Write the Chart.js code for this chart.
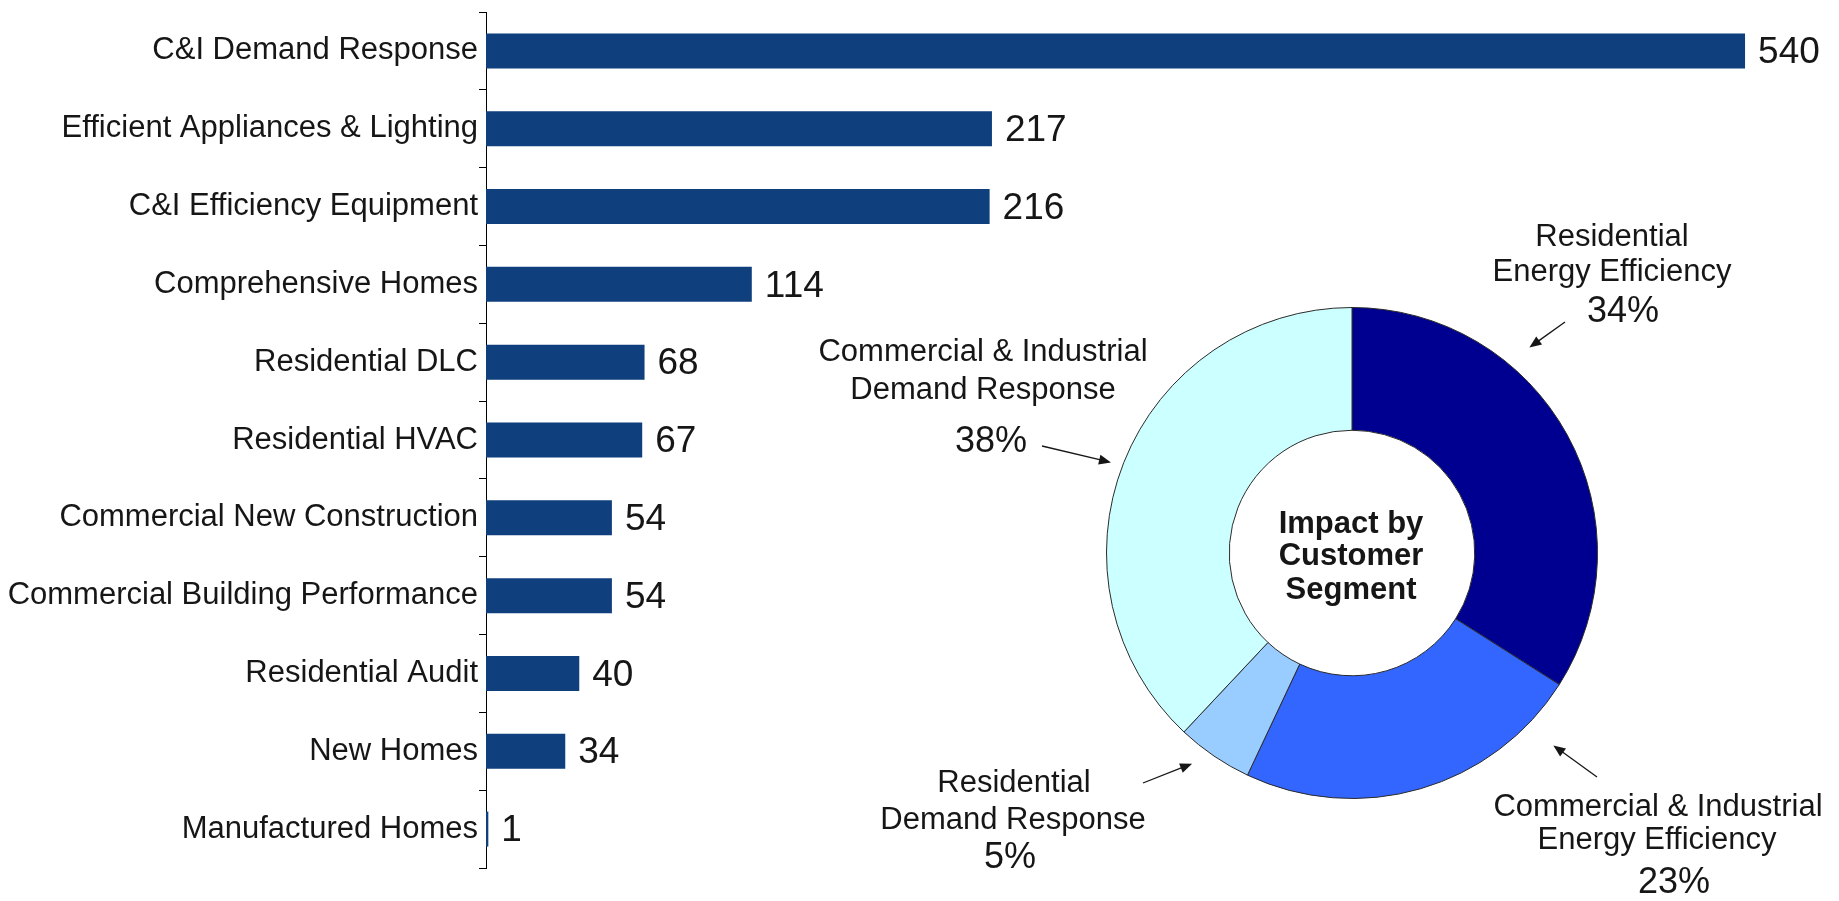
<!DOCTYPE html>
<html>
<head>
<meta charset="utf-8">
<script src="https://cdn.jsdelivr.net/npm/chart.js@4/dist/chart.umd.min.js"></script>
<style>
  html, body { margin: 0; padding: 0; background: #fff; width: 1839px; height: 901px; overflow: hidden; }
  #bars { position: absolute; left: 0; top: 0; }
  #ring { position: absolute; left: 790px; top: 190px; }
</style>
</head>
<body>
<canvas id="bars" width="1839" height="901"></canvas>
<canvas id="ring" width="1049" height="711"></canvas>
<script>
// Program impact (MW) by program
const programs = [
  'C&I Demand Response',
  'Efficient Appliances & Lighting',
  'C&I Efficiency Equipment',
  'Comprehensive Homes',
  'Residential DLC',
  'Residential HVAC',
  'Commercial New Construction',
  'Commercial Building Performance',
  'Residential Audit',
  'New Homes',
  'Manufactured Homes'
];
const impactMW = [540, 217, 216, 114, 68, 67, 54, 54, 40, 34, 1];

// Share of impact by customer segment (%)
const segments = [
  'Residential Energy Efficiency',
  'Commercial & Industrial Energy Efficiency',
  'Residential Demand Response',
  'Commercial & Industrial Demand Response'
];
const segmentShare = [34, 23, 5, 38];
const segmentLines = [
  ['Residential', 'Energy Efficiency'],
  ['Commercial & Industrial', 'Energy Efficiency'],
  ['Residential', 'Demand Response'],
  ['Commercial & Industrial', 'Demand Response']
];
const centerTitle = ['Impact by', 'Customer', 'Segment'];

const FONT = 'Arial, "Liberation Sans", sans-serif';
const INK = '#161616';
Chart.defaults.font.family = FONT;
Chart.defaults.animation = false;

// value written just past the end of each bar
const barValueLabels = {
  id: 'barValueLabels',
  afterDatasetsDraw(chart) {
    const ctx = chart.ctx;
    const meta = chart.getDatasetMeta(0);
    ctx.save();
    ctx.font = '37px ' + FONT;
    ctx.fillStyle = INK;
    ctx.textAlign = 'left';
    ctx.textBaseline = 'middle';
    meta.data.forEach((bar, i) => {
      ctx.fillText(String(chart.data.datasets[0].data[i]), bar.x + 13, bar.y + 2);
    });
    ctx.restore();
  }
};

new Chart(document.getElementById('bars'), {
  type: 'bar',
  data: {
    labels: programs,
    datasets: [{
      data: impactMW,
      backgroundColor: '#0f3f7d',
      borderWidth: 0,
      categoryPercentage: 1,
      barPercentage: 0.45
    }]
  },
  options: {
    responsive: false,
    indexAxis: 'y',
    layout: { padding: { top: 12, bottom: 33, right: 31, left: 0 } },
    plugins: { legend: { display: false }, tooltip: { enabled: false } },
    scales: {
      x: { min: 0, max: 567, display: false },
      y: {
        grid: {
          display: true,
          drawOnChartArea: false,
          drawTicks: true,
          tickLength: 7,
          color: '#000',
          lineWidth: 1,
          offset: true
        },
        border: { display: true, color: '#000', width: 1 },
        ticks: {
          color: INK,
          font: { size: 31 },
          padding: 1,
          autoSkip: false
        },
        afterFit(scale) {
          scale.width = 486;
          // labels sit inside their bands, so no extra room above/below is needed
          scale.paddingTop = 0;
          scale.paddingBottom = 0;
        }
      }
    }
  },
  plugins: [barValueLabels]
});

// callout placement around the ring, in px relative to its centre;
// arrow heads sit at an angle (deg, clockwise from 12 o'clock) just outside the rim
const callouts = [
  { lines: [[260, -316], [260, -281]], pct: [271, -241], tail: [213, -231], angle: 40.8, gap: 26 },
  { lines: [[306, 254], [305, 287]],   pct: [322, 330],  tail: [245, 224],  angle: 133.7, gap: 33 },
  { lines: [[-338, 230], [-339, 267]], pct: [-342, 305], tail: [-209, 230], angle: 217.2, gap: 19 },
  { lines: [[-369, -201], [-369, -163]], pct: [-361, -111], tail: [-310, -107], angle: 290.6, gap: 12 }
];

function drawArrow(ctx, x0, y0, x1, y1) {
  const a = Math.atan2(y1 - y0, x1 - x0);
  const len = 12, half = 5;
  ctx.beginPath();
  ctx.moveTo(x0, y0);
  ctx.lineTo(x1 - Math.cos(a) * len * 0.8, y1 - Math.sin(a) * len * 0.8);
  ctx.stroke();
  ctx.beginPath();
  ctx.moveTo(x1, y1);
  ctx.lineTo(x1 - Math.cos(a) * len - Math.sin(a) * half, y1 - Math.sin(a) * len + Math.cos(a) * half);
  ctx.lineTo(x1 - Math.cos(a) * len + Math.sin(a) * half, y1 - Math.sin(a) * len - Math.cos(a) * half);
  ctx.closePath();
  ctx.fill();
}

const ringAnnotations = {
  id: 'ringAnnotations',
  afterDraw(chart) {
    const ctx = chart.ctx;
    const arcs = chart.getDatasetMeta(0).data;
    if (!arcs.length) return;
    const cx = arcs[0].x, cy = arcs[0].y, R = arcs[0].outerRadius;
    const values = chart.data.datasets[0].data;
    ctx.save();
    ctx.fillStyle = INK;
    ctx.strokeStyle = INK;
    ctx.lineWidth = 1.3;
    ctx.textAlign = 'center';
    ctx.textBaseline = 'middle';

    // centre title
    ctx.font = 'bold 31px ' + FONT;
    [-29, 3, 37].forEach((dy, i) => ctx.fillText(centerTitle[i], cx - 1, cy + dy));

    callouts.forEach((c, i) => {
      ctx.font = '31px ' + FONT;
      segmentLines[i].forEach((t, j) => ctx.fillText(t, cx + c.lines[j][0], cy + c.lines[j][1]));
      ctx.font = '36px ' + FONT;
      ctx.fillText(values[i] + '%', cx + c.pct[0], cy + c.pct[1]);
      const th = c.angle * Math.PI / 180;
      const d = R + c.gap;
      drawArrow(ctx, cx + c.tail[0], cy + c.tail[1], cx + d * Math.sin(th), cy - d * Math.cos(th));
    });
    ctx.restore();
  }
};

new Chart(document.getElementById('ring'), {
  type: 'doughnut',
  data: {
    labels: segments,
    datasets: [{
      data: segmentShare,
      backgroundColor: ['#000090', '#3366ff', '#99ccff', '#ccffff'],
      borderColor: '#2a2a2a',
      borderWidth: 1,
      hoverOffset: 0
    }]
  },
  options: {
    responsive: false,
    cutout: '50%',
    layout: { padding: { left: 316, right: 241, top: 117, bottom: 102 } },
    plugins: { legend: { display: false }, tooltip: { enabled: false } }
  },
  plugins: [ringAnnotations]
});
</script>
</body>
</html>
